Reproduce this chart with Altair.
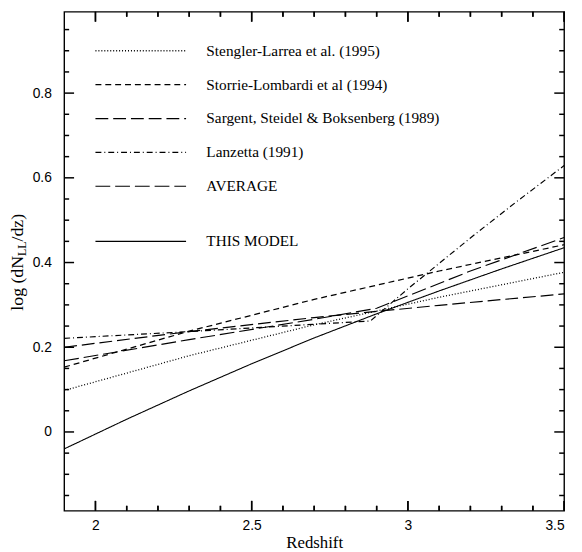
import altair as alt
import pandas as pd

# ---------------- data ----------------
series_names = [
    "Stengler-Larrea et al. (1995)",
    "Storrie-Lombardi et al (1994)",
    "Sargent, Steidel & Boksenberg (1989)",
    "Lanzetta (1991)",
    "AVERAGE",
    "THIS MODEL",
]

z_stengler = [1.9, 2.3, 2.7, 3.1, 3.5]
v_stengler = [0.098, 0.180, 0.253, 0.318, 0.377]

z_storrie = [1.9, 2.3, 2.7, 3.1, 3.5]
v_storrie = [0.153, 0.238, 0.313, 0.380, 0.442]

z_sargent = [1.9, 2.3, 2.7, 3.1, 3.5]
v_sargent = [0.200, 0.237, 0.270, 0.299, 0.326]

z_lanzetta = [1.9, 2.3, 2.88, 3.0, 3.2, 3.35, 3.5]
v_lanzetta = [0.221, 0.237, 0.262, 0.338, 0.458, 0.545, 0.629]

z_average = [1.9, 2.3, 2.7, 2.9, 3.2, 3.5]
v_average = [0.168, 0.218, 0.266, 0.292, 0.380, 0.459]

z_model = [1.9, 2.1, 2.3, 2.5, 2.7, 2.9, 3.1, 3.3, 3.5]
v_model = [-0.040, 0.030, 0.097, 0.161, 0.222, 0.279, 0.333, 0.385, 0.435]

# legend rows (data coordinates)
legend_v = [0.90, 0.82, 0.74, 0.66, 0.58, 0.45]
legend_z_start = 2.0
legend_z_end = 2.29
legend_text_z = 2.355

# axes
x_domain = [1.9, 3.5]
y_domain = [-0.186, 0.992]
x_major = [2.0, 2.5, 3.0, 3.5]
x_minor = [2.1, 2.2, 2.3, 2.4, 2.6, 2.7, 2.8, 2.9, 3.1, 3.2, 3.3, 3.4]
y_major = [0.0, 0.2, 0.4, 0.6, 0.8]
y_minor = [-0.15, -0.1, -0.05, 0.05, 0.1, 0.15, 0.25, 0.3, 0.35, 0.45,
           0.5, 0.55, 0.65, 0.7, 0.75, 0.85, 0.9, 0.95]

y_title_parts = ["log (dN", "LL", "/dz)"]

# ---------------- styles ----------------
dashes = [[1, 2], [6, 4], [13, 5], [6, 3, 1, 3], [15, 5], [1, 0]]
widths = [1.3, 1.1, 1.1, 1.0, 2.0, 1.4]

W, H = 507, 506
MAJ, MIN = 10, 5
SERIF = "Liberation Serif"
SANS = "Liberation Sans"
TICK_COLOR = "black"
TW = 1.5

# ---------------- frames ----------------
zs = [z_stengler, z_storrie, z_sargent, z_lanzetta, z_average, z_model]
vs = [v_stengler, v_storrie, v_sargent, v_lanzetta, v_average, v_model]
rows = []
for name, zz, vv in zip(series_names, zs, vs):
    for a, b in zip(zz, vv):
        rows.append({"series": name, "z": a, "v": b})
lines_df = pd.DataFrame(rows)

legend_df = pd.DataFrame({
    "series": series_names,
    "v": legend_v,
    "z": [legend_z_start] * len(series_names),
    "z2": [legend_z_end] * len(series_names),
    "zt": [legend_text_z] * len(series_names),
})

# half tick width expressed in x-data units
half_w = 0.5 * TW * (x_domain[1] - x_domain[0]) / W


def xtick_df(values):
    return pd.DataFrame({"z": values,
                         "za": [val - half_w for val in values],
                         "zb": [val + half_w for val in values]})


xmaj_df = xtick_df(x_major)
xmin_df = xtick_df(x_minor)
ymaj_df = pd.DataFrame({"v": y_major})
ymin_df = pd.DataFrame({"v": y_minor})
one = pd.DataFrame({"a": [0]})

x_scale = alt.Scale(domain=x_domain, nice=False, zero=False)
y_scale = alt.Scale(domain=y_domain, nice=False, zero=False)
dash_scale = alt.Scale(domain=series_names, range=dashes)
width_scale = alt.Scale(domain=series_names, range=widths)

x_axis = alt.Axis(
    values=x_major, format="~g", ticks=False, domain=False, grid=False,
    labelFont=SANS, labelFontSize=14, labelColor="black", labelPadding=8,
    title="Redshift", titleFont=SERIF, titleFontSize=17,
    titleFontWeight="normal", titleColor="black", titlePadding=2)
y_axis = alt.Axis(
    values=y_major, format="~g", ticks=False, domain=False, grid=False,
    labelFont=SANS, labelFontSize=14, labelColor="black", labelPadding=13,
    title="")

X = alt.X("z:Q", scale=x_scale, axis=x_axis)
Y = alt.Y("v:Q", scale=y_scale, axis=y_axis)

dash_enc = alt.StrokeDash("series:N", scale=dash_scale, legend=None)
width_enc = alt.StrokeWidth("series:N", scale=width_scale, legend=None)


def xticks(df, L):
    bot = alt.Chart(df).mark_rect(color=TICK_COLOR).encode(
        x=alt.X("za:Q", scale=x_scale, axis=x_axis), x2="zb:Q",
        y=alt.value(H), y2=alt.value(H - L))
    top = alt.Chart(df).mark_rect(color=TICK_COLOR).encode(
        x=alt.X("za:Q", scale=x_scale, axis=x_axis), x2="zb:Q",
        y=alt.value(0), y2=alt.value(L))
    bot_r = alt.Chart(df).mark_rule(color=TICK_COLOR, strokeWidth=TW).encode(
        x=X, y=alt.value(H), y2=alt.value(H - L))
    top_r = alt.Chart(df).mark_rule(color=TICK_COLOR, strokeWidth=TW).encode(
        x=X, y=alt.value(0), y2=alt.value(L))
    return [bot, top, bot_r, top_r]


def yticks(df, L):
    left = alt.Chart(df).mark_rule(color=TICK_COLOR, strokeWidth=TW).encode(
        y=Y, x=alt.value(0), x2=alt.value(L))
    right = alt.Chart(df).mark_rule(color=TICK_COLOR, strokeWidth=TW).encode(
        y=Y, x=alt.value(W), x2=alt.value(W - L))
    return [left, right]


ticks = xticks(xmaj_df, MAJ) + xticks(xmin_df, MIN) + yticks(ymaj_df, MAJ) + yticks(ymin_df, MIN)

lines = alt.Chart(lines_df).mark_line(color="black").encode(
    x=X, y=Y, strokeDash=dash_enc, strokeWidth=width_enc, detail="series:N")

leg_rules = alt.Chart(legend_df).mark_rule(color="black").encode(
    x=X, x2="z2:Q", y=Y, strokeDash=dash_enc, strokeWidth=width_enc)

leg_text = alt.Chart(legend_df).mark_text(
    align="left", baseline="middle", font=SERIF, fontSize=15.5, color="black"
).encode(x=alt.X("zt:Q", scale=x_scale, axis=x_axis),
         y=alt.Y("v:Q", scale=y_scale, axis=y_axis), text="series:N")

# composed y-axis title with subscript
t_center = 254
w1, w2, w3 = 55.5, 14.7, 28
start = t_center + (w1 + w2 + w3) / 2
y0 = start - w1
t1 = alt.Chart(one).mark_text(angle=270, align="right", baseline="middle",
                              font=SERIF, fontSize=18, color="black").encode(
    x=alt.value(-47), y=alt.value(y0), text=alt.value(y_title_parts[0]))
t2 = alt.Chart(one).mark_text(angle=270, align="left", baseline="middle",
                              font=SERIF, fontSize=12, color="black").encode(
    x=alt.value(-43), y=alt.value(y0), text=alt.value(y_title_parts[1]))
t3 = alt.Chart(one).mark_text(angle=270, align="left", baseline="middle",
                              font=SERIF, fontSize=18, color="black").encode(
    x=alt.value(-47), y=alt.value(y0 - w2), text=alt.value(y_title_parts[2]))

chart = alt.layer(*ticks, lines, leg_rules, leg_text, t1, t2, t3).properties(
    width=W, height=H,
    autosize=alt.AutoSizeParams(type="none"),
    padding={"left": 57, "top": 0, "right": 10, "bottom": 38},
).configure_view(stroke="black", strokeWidth=1.4)

chart.save("out.html", embed_options={"renderer": "svg", "actions": False})
